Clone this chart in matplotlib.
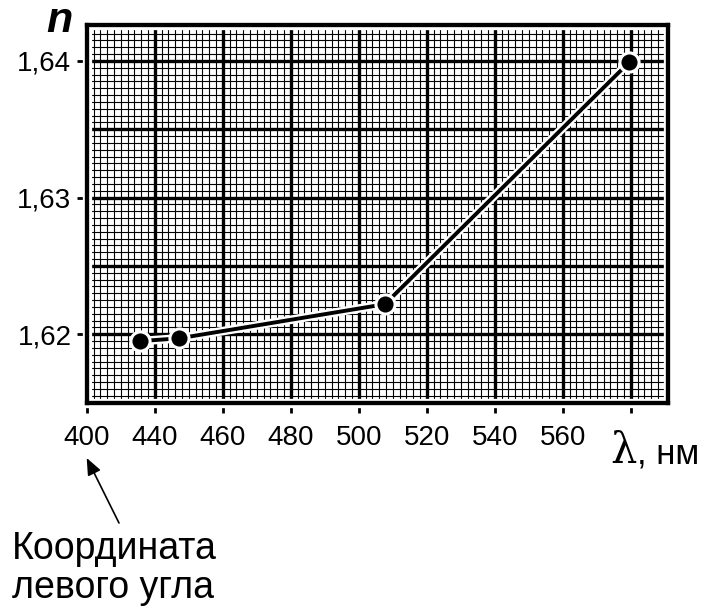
import numpy as np
import matplotlib
matplotlib.use('Agg')
import matplotlib.pyplot as plt
import matplotlib.patheffects as pe
from matplotlib.patches import Rectangle

# wavelengths (nm) and refractive index
wavelength = [435.8, 447.1, 507.7, 579.5]
n_values = [1.6195, 1.6197, 1.6222, 1.6399]

x_ticks = [420, 440, 460, 480, 500, 520, 540, 560, 580]
x_tick_labels = ['400', '440', '460', '480', '500', '520', '540', '560', '']
y_ticks = [1.62, 1.63, 1.64]
y_tick_labels = ['1,62', '1,63', '1,64']

plt.rcParams['font.family'] = ['Liberation Sans', 'DejaVu Sans']

fig = plt.figure(figsize=(7.04, 6.12), dpi=100)
ax = fig.add_axes([0.1232, 0.3422, 0.8259, 0.6162])

x0, x1 = 420, 591.0
y0, y1 = 1.615, 1.6426
ax.set_xlim(x0, x1)
ax.set_ylim(y0, y1)

# graph paper
for xv in np.arange(x0, x1, 2):
    ax.axvline(xv, color='black', lw=0.8, zorder=1)
for yv in np.arange(y0, y1, 0.0005):
    ax.axhline(yv, color='black', lw=0.8, zorder=1)
for xv in np.arange(x0, x1, 20):
    ax.axvline(xv, color='black', lw=2.4, zorder=1.1)
for yv in np.arange(y0, y1, 0.005):
    ax.axhline(yv, color='black', lw=2.4, zorder=1.1)

# white gap between paper and frame
ax.add_patch(Rectangle((0, 0), 1, 1, transform=ax.transAxes, fill=False,
                       edgecolor='white', lw=6.7, zorder=2.4, clip_on=False))
for s in ax.spines.values():
    s.set_linewidth(3.1)
    s.set_zorder(2.5)

ax.plot(wavelength, n_values, color='black', lw=2.8, zorder=3,
        path_effects=[pe.Stroke(linewidth=6.2, foreground='white'), pe.Normal()])
ax.plot(wavelength, n_values, ls='none', marker='o', ms=13.8,
        mfc='black', mec='white', mew=2.2, zorder=4)

ax.set_xticks(x_ticks)
ax.set_xticklabels(x_tick_labels)
ax.set_yticks(y_ticks)
ax.set_yticklabels(y_tick_labels)
ax.tick_params(axis='x', direction='out', length=7, width=2, pad=9, labelsize=20)
ax.tick_params(axis='y', direction='out', length=7, width=2, pad=4, labelsize=20)

fig.text(59 / 704, 1 - 32 / 612, 'n', fontsize=31, weight='bold', style='italic',
         ha='center', va='baseline')
fig.text(610 / 704, 1 - 463 / 612, 'λ', fontsize=30, family='DejaVu Serif',
         ha='left', va='baseline')
fig.text(637 / 704, 1 - 463 / 612, ', нм', fontsize=25, ha='left', va='baseline')

fig.text(12 / 704, 1 - 559 / 612, 'Координата', fontsize=27, ha='left', va='baseline')
fig.text(12 / 704, 1 - 598 / 612, 'левого угла', fontsize=27, ha='left', va='baseline')
ax.annotate('', xy=(86.7 / 704, 1 - 458 / 612), xytext=(119 / 704, 1 - 523 / 612),
            xycoords='figure fraction', textcoords='figure fraction',
            arrowprops=dict(arrowstyle='-|>,head_length=0.6,head_width=0.25',
                            mutation_scale=17, lw=1.2, color='black',
                            shrinkA=0, shrinkB=0))

fig.savefig('out.png', dpi=100)
